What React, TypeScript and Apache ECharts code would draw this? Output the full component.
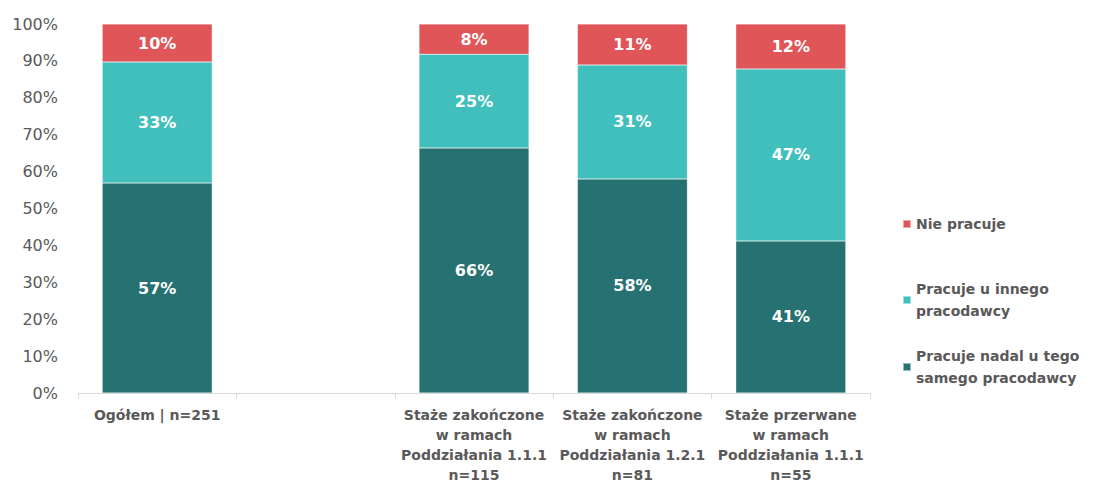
import React, { useEffect, useRef } from "react";
import * as echarts from "echarts";

const categories = [
  "Ogółem | n=251",
  "",
  "Staże zakończone\nw ramach\nPoddziałania 1.1.1\nn=115",
  "Staże zakończone\nw ramach\nPoddziałania 1.2.1\nn=81",
  "Staże przerwane\nw ramach\nPoddziałania 1.1.1\nn=55",
];
const seriesNames = [
  "Pracuje nadal u tego samego pracodawcy",
  "Pracuje u innego pracodawcy",
  "Nie pracuje",
];
const legendLabels: Record<string, string> = {
  "Pracuje nadal u tego samego pracodawcy": "Pracuje nadal u tego\nsamego pracodawcy",
  "Pracuje u innego pracodawcy": "Pracuje u innego\npracodawcy",
  "Nie pracuje": "Nie pracuje",
};
const samePlace = [56.9, null, 66.4, 58.0, 41.2];
const otherPlace = [32.8, null, 25.4, 30.9, 46.6];
const notWorking = [10.3, null, 8.2, 11.1, 12.2];
const colors = ["#267272", "#40BFBD", "#E05558"];
const yTicks = [0, 10, 20, 30, 40, 50, 60, 70, 80, 90, 100];

const FONT = "DejaVu Sans";

export default function App() {
  const ref = useRef<HTMLDivElement>(null);
  useEffect(() => {
    if (!ref.current) return;
    const chart = echarts.init(ref.current, undefined, { renderer: "svg" });
    const dataSets = [samePlace, otherPlace, notWorking];
    const legendTops = [208, 273, 340];
    const legendOrder = ["Nie pracuje", "Pracuje u innego pracodawcy", "Pracuje nadal u tego samego pracodawcy"];
    chart.setOption({
      animation: false,
      color: colors,
      textStyle: { fontFamily: FONT },
      grid: { left: 78, right: 226, top: 24, bottom: 91, containLabel: false, outerBoundsMode: "none" },
      legend: legendOrder.map((n, i) => ({
        data: [n],
        orient: "vertical",
        left: 897,
        top: legendTops[i],
        itemWidth: 8,
        itemHeight: 8,
        itemGap: 0,
        icon: "rect",
        formatter: (name: string) => legendLabels[name],
        textStyle: { color: "#595959", fontSize: 14, fontWeight: "bold", lineHeight: 22, fontFamily: FONT },
      })),
      xAxis: {
        type: "category",
        data: categories,
        axisLine: { lineStyle: { color: "#D9D9D9" } },
        axisTick: { show: true, length: 6, lineStyle: { color: "#D9D9D9" } },
        axisLabel: {
          interval: 0,
          color: "#595959",
          fontSize: 14,
          fontWeight: "bold",
          lineHeight: 20,
          margin: 12,
          fontFamily: FONT,
        },
      },
      yAxis: {
        type: "value",
        min: 0,
        max: 100,
        interval: 10,
        splitLine: { show: false },
        axisLine: { show: false },
        axisTick: { show: false },
        axisLabel: {
          color: "#595959",
          fontSize: 16,
          margin: 20,
          fontFamily: FONT,
          formatter: (v: number) => (yTicks.includes(v) ? v + "%" : ""),
        },
      },
      series: seriesNames.map((name, i) => ({
        name,
        type: "bar",
        stack: "total",
        barWidth: 110,
        data: dataSets[i],
        itemStyle: { color: colors[i], borderColor: "rgba(255,255,255,0.5)", borderWidth: 0.5 },
        label: {
          show: true,
          position: "inside",
          color: "#FFFFFF",
          fontSize: 16,
          fontWeight: "bold",
          fontFamily: FONT,
          formatter: (p: any) => (p.value == null ? "" : Math.round(p.value) + "%"),
        },
      })),
    });
    return () => chart.dispose();
  }, []);
  return <div ref={ref} style={{ width: 1096, height: 484, position: "absolute", left: 0, top: 0 }} />;
}
